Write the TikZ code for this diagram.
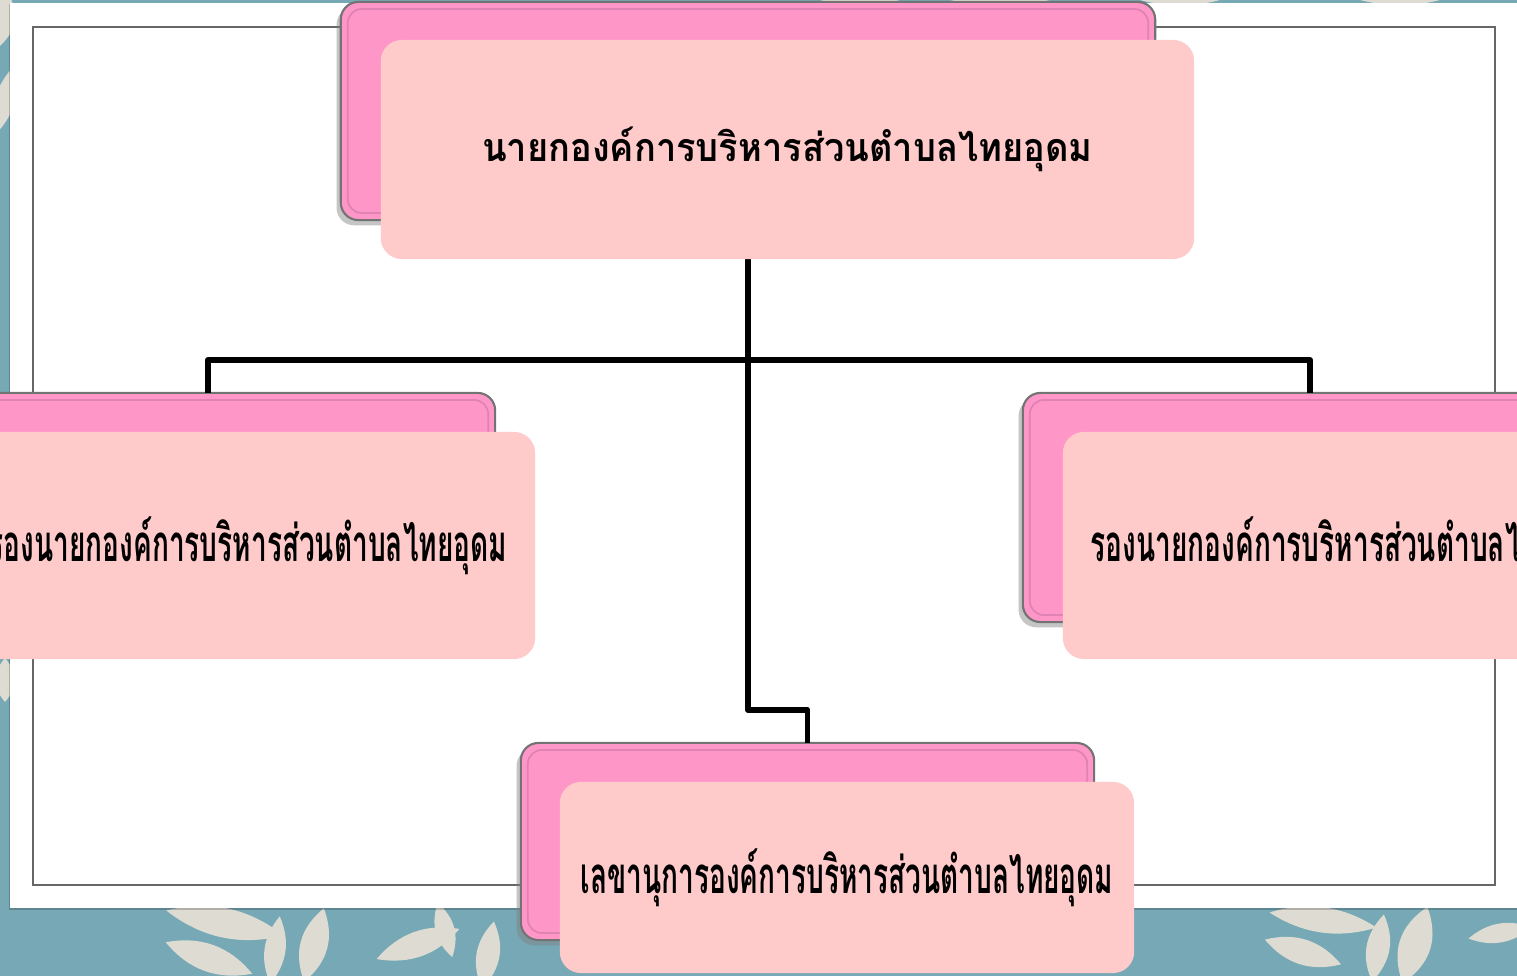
\documentclass[tikz,border=0pt]{standalone}
\usepackage{fontspec}
\usepackage{tikz}
\usetikzlibrary{shadows}
\newfontfamily\thaifont[Script=Thai,FakeStretch=0.92]{Loma}
\newfontfamily\thaicond[Script=Thai,FakeStretch=0.55]{Loma}
\definecolor{seateal}{RGB}{118,168,181}
\definecolor{leafbeige}{RGB}{222,219,210}
\definecolor{backpink}{RGB}{255,150,200}
\definecolor{frontpink}{RGB}{255,202,202}
\definecolor{edgepink}{RGB}{225,130,180}

\begin{document}
\begin{tikzpicture}[x=0.01cm,y=-0.01cm,
  backbox/.style={rounded corners=5pt,fill=backpink,draw=black!55,line width=0.6pt,
    inner sep=0pt,outer sep=0pt,
    drop shadow={shadow xshift=-1.2pt,shadow yshift=-1.5pt,opacity=.45}},
  frontbox/.style={rounded corners=6pt,fill=frontpink,inner sep=0pt,outer sep=0pt,text=black},
  innerline/.style={draw=edgepink,line width=0.5pt,rounded corners=4pt},
  leaf/.style={fill=leafbeige},
  link/.style={line width=1.7pt,line join=round}]
\useasboundingbox (0,0) rectangle (1517,976);
\clip (0,0) rectangle (1517,976);

% background with leaves
\fill[seateal] (0,0) rectangle (1517,976);
\foreach \x/\y/\a/\l/\w in {225/923/-12/60/14, 209/958/-20/46/13, 275/950/82/34/10,
    314/945/75/38/13, 418/944/20/44/12, 445/930/-75/28/9, 488/955/80/34/11,
    1323/920/-8/54/12, 1303/952/-18/40/12, 1378/948/80/34/11, 1415/945/72/40/15,
    1500/933/10/32/9, 3/20/80/28/11, 5/100/70/42/10, 5/680/90/22/9,
    860/0/0/40/5, 1000/0/0/50/5, 1180/0/0/40/5, 1400/0/0/40/5}
  \fill[leaf,shift={(\x,\y)},rotate=\a]
    (-\l,0) .. controls (-\l/3,1.4*\w) and (\l/3,1.4*\w) .. (\l,0)
    .. controls (\l/3,-1.4*\w) and (-\l/3,-1.4*\w) .. cycle;

% slide
\fill[black,opacity=.2] (9,4) rectangle (1517,910);
\fill[white] (10,3) rectangle (1517,908);
\draw[black!60,line width=0.6pt] (33,27) rectangle (1495,885);

% back boxes
\node[backbox,minimum width=8.14cm,minimum height=2.18cm] (topb) at (748,111) {};
\node[backbox,minimum width=5.74cm,minimum height=2.29cm] (leftb) at (208,507.5) {};
\node[backbox,minimum width=5.74cm,minimum height=2.29cm] (rightb) at (1310,507.5) {};
\node[backbox,minimum width=5.73cm,minimum height=1.97cm] (botb) at (807.5,841.5) {};
\foreach \n in {topb,leftb,rightb,botb}
  \draw[innerline] ([shift={(7,7)}]\n.north west) rectangle ([shift={(-7,-7)}]\n.south east);

% connectors
\coordinate (bar) at (748,360);
\draw[link] (topb.south) -- ++(0,490) -| (botb.north);
\draw[link] (leftb.north) |- (bar) -| (rightb.north);
\draw[link] (topb.south) -- (bar);

% front boxes
\node[frontbox,minimum width=8.13cm,minimum height=2.19cm] (top) at (787.5,149.5)
  {\thaifont\bfseries\fontsize{11.2}{14}\selectfont นายกองค์การบริหารส่วนตำบลไทยอุดม};
\node[frontbox,minimum width=5.74cm,minimum height=2.27cm] (left) at (248,545.5)
  {\thaicond\bfseries\fontsize{14.5}{17}\selectfont รองนายกองค์การบริหารส่วนตำบลไทยอุดม};
\node[frontbox,minimum width=5.74cm,minimum height=2.27cm] (right) at (1350,545.5)
  {\thaicond\bfseries\fontsize{14.5}{17}\selectfont รองนายกองค์การบริหารส่วนตำบลไทยอุดม};
\node[frontbox,minimum width=5.74cm,minimum height=1.91cm] (bot) at (847,877.5)
  {\thaicond\bfseries\fontsize{14.5}{17}\selectfont เลขานุการองค์การบริหารส่วนตำบลไทยอุดม};
\end{tikzpicture}
\end{document}
